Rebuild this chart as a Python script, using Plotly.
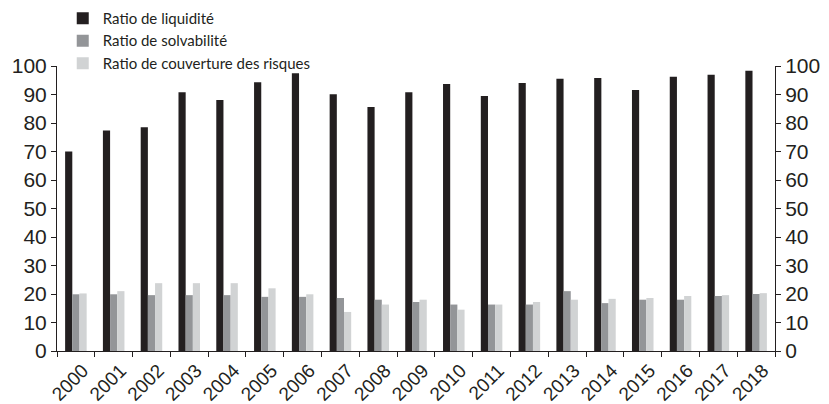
import plotly.graph_objects as go

years = [str(y) for y in range(2000, 2019)]
liquidite = [70, 77.4, 78.5, 90.8, 88.1, 94.3, 97.5, 90.1, 85.6, 90.8,
             93.7, 89.5, 94.0, 95.5, 95.8, 91.6, 96.2, 96.9, 98.3]
solvabilite = [19.9, 19.9, 19.6, 19.6, 19.6, 19.0, 19.0, 18.6, 18.0, 17.2,
               16.3, 16.3, 16.3, 21.0, 16.8, 18.0, 18.0, 19.3, 20.0]
couverture = [20.2, 21.0, 23.8, 23.8, 23.8, 22.0, 19.9, 13.7, 16.3, 18.0,
              14.5, 16.3, 17.2, 18.0, 18.3, 18.6, 19.3, 19.6, 20.3]
y_ticks = [0, 10, 20, 30, 40, 50, 60, 70, 80, 90, 100]

names = ["Ratio de liquidité", "Ratio de solvabilité", "Ratio de couverture des risques"]
colors = ["#231f20", "#939598", "#d1d3d4"]

fig = go.Figure()
for name, vals, col in zip(names, [liquidite, solvabilite, couverture], colors):
    fig.add_trace(go.Bar(x=years, y=vals, name=name, marker=dict(color=col, line=dict(width=0))))

# invisible trace to carry the right-hand axis
fig.add_trace(go.Scatter(x=years, y=liquidite, yaxis="y2", mode="lines",
                         line=dict(width=0, color="rgba(0,0,0,0)"),
                         showlegend=False, hoverinfo="skip"))

tickfont = dict(family="Liberation Sans, Arial, sans-serif", size=21, color="#231f20")
yax = dict(range=[0, 100], tickvals=y_ticks, showgrid=False, zeroline=False,
           showline=True, linecolor="#231f20", linewidth=1,
           ticks="outside", ticklen=5, tickcolor="#231f20", tickwidth=1,
           tickfont=tickfont, fixedrange=True, automargin=False)

fig.update_layout(
    width=829, height=404,
    margin=dict(l=57, r=54, t=66, b=53, autoexpand=False),
    paper_bgcolor="white", plot_bgcolor="white",
    barmode="group", bargap=0.43, bargroupgap=0,
    xaxis=dict(type="category", showgrid=False, zeroline=False, showline=True,
               linecolor="#231f20", linewidth=1, ticks="outside", ticklen=5,
               tickcolor="#231f20", tickson="boundaries", tickangle=-45,
               ticklabelshift=7, automargin=False,
               tickfont=dict(family="Liberation Sans, Arial, sans-serif", size=19, color="#231f20")),
    yaxis=yax,
    yaxis2=dict(yax, overlaying="y", side="right"),
    legend=dict(x=0.008, y=1.225, xanchor="left", yanchor="top",
                font=dict(family="Lato, Open Sans, sans-serif", size=15, color="#231f20"),
                bgcolor="rgba(0,0,0,0)", traceorder="normal", tracegroupgap=0),
    showlegend=True,
)

fig.write_html("out.html")
